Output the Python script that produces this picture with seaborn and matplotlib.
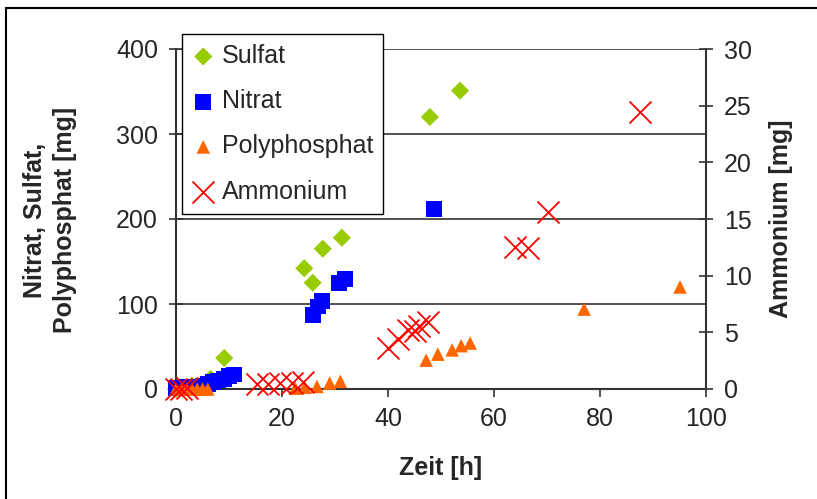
import matplotlib
matplotlib.use("Agg")
import matplotlib.pyplot as plt
import seaborn as sns
import pandas as pd
from matplotlib.patches import Rectangle

sns.set_style("white")
plt.rcParams["font.family"] = ["Liberation Sans", "DejaVu Sans"]

# Messwerte
sulfat_t = [0, 3, 6.5, 9.1, 24.2, 25.8, 27.7, 31.3, 47.9, 53.6]
sulfat_v = [0, 4, 12, 36.5, 142, 125, 165, 178, 320, 351]

nitrat_t = [0, 1, 2, 3, 4, 5, 6, 7, 8, 9, 10, 11, 25.8, 26.8, 27.5, 30.8, 31.9, 48.7]
nitrat_v = [1, 1, 2, 2, 3, 4, 6, 8, 10, 12, 15, 17, 87, 97, 104, 125, 129, 212]

poly_t = [0, 1, 2, 3, 4, 5, 6, 22.5, 24.3, 26.6, 29, 31, 47.2, 49.4, 52.1, 53.8, 55.5, 77, 95.1]
poly_v = [0, 0, 0, 0, 0, 0, 0, 1, 2, 3, 7, 9, 34, 41, 46, 51, 54, 94, 120]

ammon_t = [0, 1, 2, 15.3, 17.4, 19.6, 21.9, 24, 40, 41.9, 43.8, 45.1, 45.9, 47.5, 64, 66.4, 70.2, 87.5]
ammon_v = [0, 0, 0.1, 0.4, 0.4, 0.5, 0.5, 0.6, 3.6, 4.4, 5.2, 5.1, 5.6, 5.9, 12.5, 12.4, 15.6, 24.4]

x_ticks = [0, 20, 40, 60, 80, 100]
left_ticks = [0, 100, 200, 300, 400]
right_ticks = [0, 5, 10, 15, 20, 25, 30]

FS = 18
dark = "#333333"

fig = plt.figure(figsize=(8.17, 4.99), dpi=100)
ax = fig.add_axes([176 / 817, 1 - 389 / 499, (706 - 176) / 817, (389 - 49) / 499])
ax2 = ax.twinx()

df_s = pd.DataFrame({"t": sulfat_t, "v": sulfat_v})
df_n = pd.DataFrame({"t": nitrat_t, "v": nitrat_v})
df_p = pd.DataFrame({"t": poly_t, "v": poly_v})
df_a = pd.DataFrame({"t": ammon_t, "v": ammon_v})

sns.scatterplot(data=df_s, x="t", y="v", ax=ax, marker="D", s=85, color="#99CC00",
                edgecolor="none", label="Sulfat", clip_on=False, zorder=3)
sns.scatterplot(data=df_n, x="t", y="v", ax=ax, marker="s", s=130, color="#0000FF",
                edgecolor="none", label="Nitrat", clip_on=False, zorder=4)
sns.scatterplot(data=df_p, x="t", y="v", ax=ax, marker="^", s=95, color="#FF6600",
                edgecolor="none", label="Polyphosphat", clip_on=False, zorder=5)
sns.scatterplot(data=df_a, x="t", y="v", ax=ax2, marker="x", s=250, color="#FF0000",
                linewidth=1.3, label="Ammonium", clip_on=False, zorder=5)

ax.set_xlim(0, 100)
ax.set_ylim(0, 400)
ax2.set_ylim(0, 30)
ax.set_xticks(x_ticks)
ax.set_yticks(left_ticks)
ax2.set_yticks(right_ticks)

ax.yaxis.grid(True, color=dark, linewidth=1.2)
ax.xaxis.grid(False)
ax.set_axisbelow(True)

for a in (ax, ax2):
    for side in ("left", "right", "bottom"):
        a.spines[side].set_color(dark)
        a.spines[side].set_linewidth(1.5)
    a.spines["top"].set_visible(False)
ax.spines["right"].set_visible(False)
ax2.spines["left"].set_visible(False)
ax2.spines["bottom"].set_visible(False)

ax.tick_params(axis="x", direction="out", length=6, width=1.2, color=dark,
               labelsize=FS, pad=7, bottom=True)
ax.tick_params(axis="y", direction="inout", length=10, width=1.2, color=dark,
               labelsize=FS, pad=8, left=True)
ax2.tick_params(axis="y", direction="inout", length=10, width=1.2, color=dark,
                labelsize=FS, pad=8, right=True)

ax.set_xlabel("Zeit [h]", fontsize=FS, fontweight="bold", labelpad=18)
ax.set_ylabel("")
ax2.set_ylabel("Ammonium [mg]", fontsize=FS, fontweight="bold", labelpad=12)
fig.text(50 / 817, 1 - 220 / 499, "Nitrat, Sulfat,\nPolyphosphat [mg]", rotation=90,
         ha="center", va="center", fontsize=FS, fontweight="bold",
         multialignment="center", linespacing=1.3)

h1, l1 = ax.get_legend_handles_labels()
h2, l2 = ax2.get_legend_handles_labels()
if ax.get_legend() is not None:
    ax.get_legend().remove()
leg = ax2.legend(h1 + h2, l1 + l2, loc="upper left",
                 bbox_to_anchor=(182 / 817, 1 - 34 / 499), bbox_transform=fig.transFigure,
                 fontsize=FS, frameon=True, fancybox=False, framealpha=1,
                 edgecolor="black", labelspacing=0.85, handlelength=0.9,
                 handletextpad=0.3, borderpad=0.4, borderaxespad=0)
leg.get_frame().set_linewidth(1.0)

fig.add_artist(Rectangle((6 / 817, -0.1), 1.2, (1 - 8 / 499) + 0.1, transform=fig.transFigure,
                         fill=False, edgecolor="black", linewidth=1.5))

fig.savefig("out.png", dpi=100)
